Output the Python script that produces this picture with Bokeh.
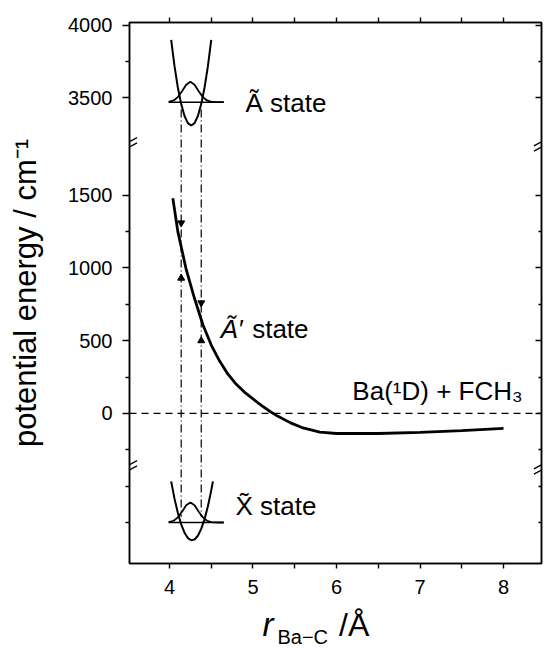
from bokeh.plotting import figure
from bokeh.layouts import column
from bokeh.models import FixedTicker, LinearAxis, Label, Arrow, Span, Range1d, ColumnDataSource
from bokeh.embed import file_html
from bokeh.resources import INLINE

# ---------------- data ----------------
# A' state potential curve (cm^-1) vs r(Ba-C) (Angstrom)
ap_r = [4.04, 4.10, 4.20, 4.30, 4.40, 4.50, 4.60, 4.70, 4.80, 4.90, 5.00, 5.10,
        5.20, 5.30, 5.45, 5.60, 5.80, 6.00, 6.50, 7.00, 7.50, 8.00]
ap_E = [1480, 1250, 990, 790, 610, 470, 360, 270, 200, 145, 100, 55,
        15, -20, -65, -100, -128, -138, -138, -130, -118, -103]

# A state well (cm^-1)
a_r = [4.02, 4.06, 4.10, 4.14, 4.18, 4.22, 4.26, 4.30, 4.34, 4.38, 4.42, 4.46, 4.50]
a_E = [3898, 3718, 3571, 3457, 3375, 3326, 3310, 3326, 3375, 3457, 3571, 3718, 3898]
a_level = 3470
a_psi_r = [3.99, 4.05, 4.10, 4.15, 4.20, 4.25, 4.30, 4.35, 4.40, 4.45, 4.50, 4.55, 4.60, 4.65]
a_psi = [2, 12, 35, 75, 120, 140, 120, 75, 35, 12, 3, 1, 0, 0]

# X state well (cm^-1, relative to its v=0 level)
x_r = [4.02, 4.06, 4.10, 4.14, 4.18, 4.22, 4.26, 4.30, 4.34, 4.38, 4.42, 4.46, 4.50, 4.52]
x_E = [283, 164, 65, -13, -70, -107, -122, -117, -91, -44, 23, 112, 221, 283]
x_level = 0
x_psi_r = [3.99, 4.05, 4.10, 4.15, 4.20, 4.25, 4.30, 4.35, 4.40, 4.45, 4.50, 4.55, 4.60, 4.65]
x_psi = [2, 12, 35, 74, 118, 138, 118, 74, 35, 12, 3, 1, 0, 0]

# vertical transitions (dash-dot) and arrowheads
trans_r = [4.14, 4.38]
trans_top_E = 3420      # on A state
trans_bot_E = 40        # on X state (relative)
arrow_r = [4.14, 4.14, 4.38, 4.38]
arrow_E = [1310, 930, 760, 500]
arrow_marker = ["inverted_triangle", "triangle", "inverted_triangle", "triangle"]

# axes
x_major = [4, 5, 6, 7, 8]
x_minor = [4.5, 5.5, 6.5, 7.5]
y_major_E = [0, 500, 1000, 1500, 3500, 4000]
y_minor_E = [-250, 250, 750, 1250, 3750]

# ---------------- broken-axis display mapping ----------------
UPPER_SHIFT = 1330      # energies above the break drawn lower by this amount
X_DISPLAY = -750        # where the X state v=0 level is drawn
BREAK_HI = 1850
BREAK_LO = -371
X_LO, X_HI = 3.521, 8.455


def up(E):
    return [e - UPPER_SHIFT if e >= 3000 else e for e in E]


def lo(E):
    return [e + X_DISPLAY for e in E]


FONT = "Liberation Sans"

p = figure(width=547, height=605, output_backend="svg", toolbar_location=None,
           x_range=Range1d(X_LO, X_HI), y_range=Range1d(-1032, 2688),
           x_axis_location=None, y_axis_location=None,
           min_border_left=129, min_border_right=6, min_border_top=22, min_border_bottom=42)
p.outline_line_color = "black"
p.outline_line_width = 1.5
p.grid.visible = False
p.background_fill_color = "white"
p.border_fill_color = "white"

y_major_disp = up(y_major_E)
y_minor_disp = up(y_minor_E) + [X_DISPLAY + 250, X_DISPLAY]
yticker = FixedTicker(ticks=y_major_disp, minor_ticks=y_minor_disp)
xticker = FixedTicker(ticks=x_major, minor_ticks=x_minor)


def style(ax, tin, tout, mtin, mtout, labels=True):
    ax.axis_line_width = 1.5
    ax.axis_line_color = "black"
    ax.major_tick_line_width = 1.4
    ax.minor_tick_line_width = 1.4
    ax.major_tick_line_color = "black"
    ax.minor_tick_line_color = "black"
    ax.major_tick_in = tin
    ax.major_tick_out = tout
    ax.minor_tick_in = mtin
    ax.minor_tick_out = mtout
    ax.major_label_text_font = FONT
    ax.major_label_text_color = "black"
    ax.major_label_text_font_size = "20px" if labels else "0px"
    ax.major_label_standoff = 10 if labels else 0


left = LinearAxis(ticker=yticker)
style(left, 0, 7, 0, 4)
left.major_label_overrides = {d: str(e) for d, e in zip(y_major_disp, y_major_E)}
left.axis_label = "potential energy / cm\u207b\u00b9"
left.axis_label_text_font = FONT
left.axis_label_text_font_size = "31px"
left.axis_label_text_font_style = "normal"
left.axis_label_text_color = "black"
left.axis_label_standoff = 22
p.add_layout(left, "left")

right = LinearAxis(ticker=yticker)
style(right, 6, 0, 3, 0, labels=False)
right.major_label_overrides = {d: "" for d in y_major_disp}
p.add_layout(right, "right")

bottom = LinearAxis(ticker=xticker)
style(bottom, 0, 5, 0, 5)
bottom.major_label_standoff = 11
p.add_layout(bottom, "below")

top = LinearAxis(ticker=xticker)
style(top, 0, 5, 0, 5, labels=False)
top.major_label_overrides = {v: "" for v in x_major}
p.add_layout(top, "above")

# zero line (Ba(1D) + FCH3 asymptote)
p.add_layout(Span(location=0, dimension="width", line_color="black",
                  line_width=1.3, line_dash="7 5"))

# A' curve
p.line(ap_r, ap_E, line_color="black", line_width=2.8)

# A state
p.line(a_r, up(a_E), line_color="black", line_width=2.0)
p.line([a_psi_r[0], a_psi_r[-1]], up([a_level, a_level]), line_color="black", line_width=1.4)
p.line(a_psi_r, up([a_level + v for v in a_psi]), line_color="black", line_width=1.8)

# X state
p.line(x_r, lo(x_E), line_color="black", line_width=2.0)
p.line([x_psi_r[0], x_psi_r[-1]], lo([x_level, x_level]), line_color="black", line_width=1.4)
p.line(x_psi_r, lo([x_level + v for v in x_psi]), line_color="black", line_width=1.8)

# transitions
for r in trans_r:
    p.line([r, r], [up([trans_top_E])[0], lo([trans_bot_E])[0]],
           line_color="black", line_width=1.2, line_dash="8 3 1 3")
src = ColumnDataSource(dict(x=arrow_r, y=arrow_E, m=arrow_marker))
p.scatter("x", "y", marker="m", source=src, size=7, fill_color="black", line_color="black")

# axis break marks
for xa in (X_LO, X_HI):
    for yb in (BREAK_HI, BREAK_LO):
        for dy in (-18, 18):
            p.add_layout(Arrow(end=None, x_start=xa - 0.09, y_start=yb + dy - 28,
                               x_end=xa + 0.09, y_end=yb + dy + 28,
                               line_color="black", line_width=1.4))


def lab(fig, x, y, text, size="26px", style="normal", baseline="middle"):
    fig.add_layout(Label(x=x, y=y, text=text, text_font=FONT, text_font_size=size,
                         text_font_style=style, text_color="black", text_baseline=baseline))


# (y = vertical middle of each text)
lab(p, 4.91, up([3462])[0], "\u00c3 state")
lab(p, 4.61, 578, "\u00c3\u2032", style="italic")
lab(p, 4.99, 578, "state")
lab(p, 4.79, -640, "X\u0303 state")
lab(p, 6.19, 151, "Ba(\u00b9D) + FCH\u2083")

# ---- strip below for the x-axis title: r_(Ba-C) / Å ----
q = figure(width=547, height=45, output_backend="svg", toolbar_location=None,
           x_range=p.x_range, y_range=Range1d(0, 45),
           x_axis_location=None, y_axis_location=None,
           min_border_left=129, min_border_right=6, min_border_top=0, min_border_bottom=0)
q.outline_line_color = None
q.grid.visible = False
q.background_fill_color = "white"
q.border_fill_color = "white"
lab(q, 5.114, 26, "r", size="33px", style="italic")
lab(q, 5.293, 25, "Ba\u2212C", size="20px", baseline="top")
lab(q, 6.030, 26, "/\u00c5", size="32px")

layout = column(p, q, spacing=0)
open("out.html", "w").write(file_html(layout, INLINE))
